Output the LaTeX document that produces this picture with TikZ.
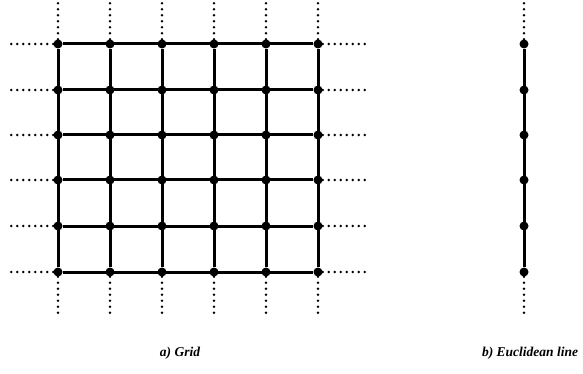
\documentclass[tikz,border=0pt]{standalone}
\usepackage{fontspec}
\setmainfont{Liberation Serif}
\tikzset{mesh/.style={line width=3pt},
 ext/.style={line width=2.8pt,line cap=round,dash pattern=on 0pt off 6pt},
 vertex/.style={circle,fill,inner sep=0pt,minimum size=9pt},
 caption/.style={font=\fontsize{13.5}{15}\selectfont\bfseries\itshape}}
\begin{document}
\begin{tikzpicture}[x=1pt,y=-1pt]
\useasboundingbox (0,0) rectangle (583,374);
\foreach \i/\x in {1/58,2/110,3/162,4/214,5/266,6/318}{
 \coordinate (t\i) at (\x,3);
 \coordinate (b\i) at (\x,318);
 \foreach \j/\y in {1/44,2/90,3/135,4/180,5/226,6/272}
  \node[vertex] (g\i\j) at (\x,\y) {};
}
\foreach \j/\y in {1/44,2/90,3/135,4/180,5/226,6/272}{
 \coordinate (l\j) at (7,\y);
 \coordinate (r\j) at (366,\y);
 \node[vertex] (e\j) at (524,\y) {};
}
\foreach \i in {1,...,6}{
 \draw[mesh] (g\i1) -- (g\i6);
 \draw[mesh] (g1\i) -- (g6\i);
 \draw[ext] (g\i1) -- (t\i);
 \draw[ext] (g\i6) -- (b\i);
 \draw[ext] (g1\i) -- (l\i);
 \draw[ext] (g6\i) -- (r\i);
}
\draw[mesh] (e1) -- (e6);
\coordinate (et) at (524,3);
\coordinate (eb) at (524,318);
\draw[ext] (e1) -- (et);
\draw[ext] (e6) -- (eb);
\node[caption] (capa) at (180,353) {a) Grid};
\node[caption] (capb) at (530,353) {b) Euclidean line};
\end{tikzpicture}
\end{document}
